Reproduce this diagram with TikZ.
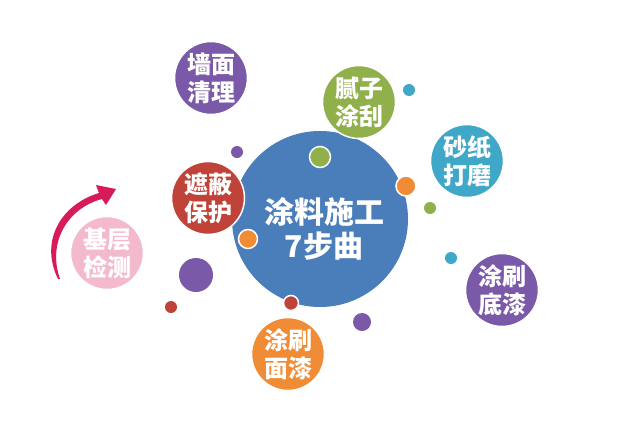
\documentclass[tikz,border=0pt]{standalone}
\usepackage{fontspec}
\newfontfamily\cjk{Noto Sans CJK SC}
\usetikzlibrary{arrows.meta}

\definecolor{hubblue}{RGB}{74,126,187}
\definecolor{stepviolet}{RGB}{122,90,168}
\definecolor{stepgreen}{RGB}{143,176,74}
\definecolor{stepteal}{RGB}{63,167,200}
\definecolor{stepred}{RGB}{192,67,58}
\definecolor{steppink}{RGB}{243,186,205}
\definecolor{steporange}{RGB}{240,140,53}
\definecolor{arrowred}{RGB}{214,27,88}

\tikzset{
	,x = 1pt, y = -1pt
	,font = \cjk
	,hub/.style     = {circle, fill=hubblue, minimum size=176pt, inner sep=0pt}
	,bubble/.style  = {circle, draw=white, line width=1.5pt, fill=#1, minimum size=73pt,
	                   inner sep=0pt, align=center, text=white, font=\cjk\bfseries\fontsize{24}{28}\selectfont}
	,dot/.style     = {circle, fill=#1, inner sep=0pt}
	,rimdot/.style  = {circle, draw=white, line width=1.5pt, fill=#1, inner sep=0pt}
}

\begin{document}
\begin{tikzpicture}
	\useasboundingbox[fill=white] (0,0) rectangle (640,426);
	% the hub
	\node[hub] at (320,219) (hub) {};
	\node[align=center, text=white, font=\cjk\bfseries\fontsize{30}{34}\selectfont] at (324,229) (title) {涂料施工\\7步曲};
	% seven steps
	\node[bubble=stepviolet] at (211,78)  (qiang) {墙面\\清理};
	\node[bubble=stepgreen]  at (359,102) (nizi)  {腻子\\涂刮};
	\node[bubble=stepteal]   at (467,161) (shazhi) {砂纸\\打磨};
	\node[bubble=stepred]    at (208,198) (zhebi) {遮蔽\\保护};
	\node[bubble=steppink]   at (107,253) (jiceng) {基层\\检测};
	\node[bubble=steporange] at (288,354) (mianqi) {涂刷\\面漆};
	\node[bubble=stepviolet] at (502,290) (diqi)  {涂刷\\底漆};
	% dots round the hub
	\node[rimdot=stepgreen,  minimum size=21pt] at (320,157) (d1) {};
	\node[rimdot=steporange, minimum size=20pt] at (406,186) (d2) {};
	\node[rimdot=steporange, minimum size=19pt] at (248,239) (d3) {};
	\node[rimdot=stepred,    minimum size=15pt] at (291,303) (d4) {};
	\node[dot=stepteal,   minimum size=12pt] at (409,90)  (d5) {};
	\node[dot=stepviolet, minimum size=12pt] at (237,152) (d6) {};
	\node[dot=stepgreen,  minimum size=12pt] at (430,208) (d7) {};
	\node[dot=stepviolet, minimum size=34pt] at (196,275) (d8) {};
	\node[dot=stepred,    minimum size=12pt] at (171,307) (d9) {};
	\node[dot=stepteal,   minimum size=12pt] at (451,258) (d10) {};
	\node[dot=stepviolet, minimum size=18pt] at (362,322) (d11) {};
	% the arrow, thin at its foot and wide at its head
	\coordinate (from) at (58,279);
	\coordinate (to) at (116,189);
	\fill[arrowred] (from) .. controls (39,240) and (62,204) .. (99,193)
		-- (96,185) -- (to) -- (106,205) -- (102,199)
		.. controls (68,208) and (47,242) .. (60,279) -- cycle;
\end{tikzpicture}
\end{document}
